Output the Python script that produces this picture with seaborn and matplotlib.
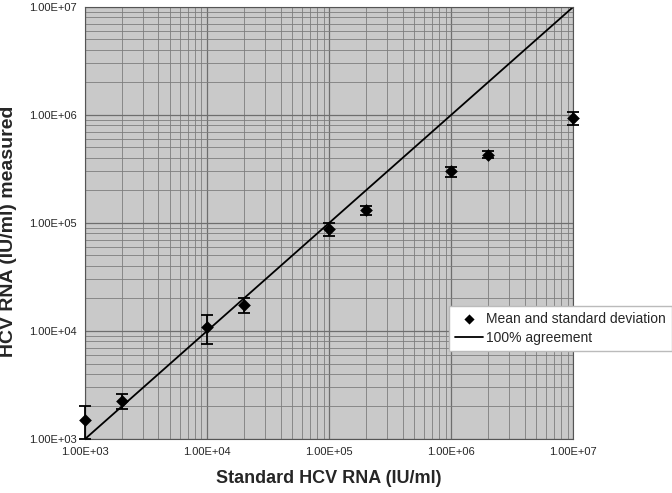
"""
HCV RNA measured vs standard - log-log agreement plot
"""

import numpy as np
import pandas as pd
import seaborn as sns
import matplotlib.pyplot as plt
from matplotlib.ticker import LogLocator, FixedLocator, NullFormatter

# standard (expected) concentrations, IU/ml
standard = [1e3, 2e3, 1e4, 2e4, 1e5, 2e5, 1e6, 2e6, 1e7]
# measured means and standard deviations, IU/ml
measured_mean = [1.5e3, 2.25e3, 1.09e4, 1.74e4, 8.8e4, 1.31e5, 3.0e5, 4.3e5, 9.4e5]
measured_sd = [0.5e3, 0.37e3, 0.33e4, 0.27e4, 1.15e4, 1.3e4, 3.2e4, 3.3e4, 1.25e5]

agreement_x = [1e3, 1e7]
tick_values = [1e3, 1e4, 1e5, 1e6, 1e7]
tick_labels = ["1.00E+03", "1.00E+04", "1.00E+05", "1.00E+06", "1.00E+07"]


def main():
    sns.set_theme(style="white")
    plt.rcParams['font.family'] = ['Liberation Sans', 'DejaVu Sans']

    df = pd.DataFrame({"standard": standard,
                       "mean": measured_mean,
                       "sd": measured_sd})
    line_df = pd.DataFrame({"x": agreement_x, "y": agreement_x})

    fig = plt.figure(figsize=(6.72, 4.93), dpi=100)
    ax = fig.add_axes([0.1265, 0.1095, 0.7265, 0.8765])
    ax.set_xscale("log")
    ax.set_yscale("log")
    ax.set_facecolor("#c9c9c9")

    # error bars first, markers on top
    eb = ax.errorbar(df["standard"], df["mean"], yerr=df["sd"], fmt="none",
                     ecolor="black", elinewidth=1.3, capsize=4, capthick=1.3,
                     zorder=3)
    for artist in eb.lines[1] + eb.lines[2]:
        artist.set_clip_on(False)
    sns.scatterplot(data=df, x="standard", y="mean", marker="D", s=42,
                    color="black", edgecolor="black", linewidth=0,
                    ax=ax, zorder=4, label="Mean and standard deviation",
                    clip_on=False)
    sns.lineplot(data=line_df, x="x", y="y", color="black", linewidth=1.3,
                 ax=ax, zorder=2, label="100% agreement")

    ax.set_xlim(1e3, 1e7)
    ax.set_ylim(1e3, 1e7)

    ax.xaxis.set_major_locator(FixedLocator(tick_values))
    ax.yaxis.set_major_locator(FixedLocator(tick_values))
    ax.set_xticklabels(tick_labels)
    ax.set_yticklabels(tick_labels)
    for axis in (ax.xaxis, ax.yaxis):
        axis.set_minor_locator(LogLocator(base=10, subs=np.arange(2, 10)))
        axis.set_minor_formatter(NullFormatter())

    ax.grid(which="major", color="#6e6e6e", linewidth=0.9)
    ax.grid(which="minor", color="#7d7d7d", linewidth=0.6)
    ax.set_axisbelow(True)
    ax.tick_params(which="both", length=0, labelsize=8, pad=6)

    for spine in ax.spines.values():
        spine.set_color("#555555")
        spine.set_linewidth(0.8)

    ax.set_xlabel("Standard HCV RNA (IU/ml)", fontsize=13,
                  fontweight="bold", labelpad=9)
    ax.set_ylabel("HCV RNA (IU/ml) measured", fontsize=14,
                  fontweight="bold")
    ax.yaxis.set_label_coords(-0.139, 0.48)

    handles, labels = ax.get_legend_handles_labels()
    ax.legend(handles, labels, loc="center left",
              bbox_to_anchor=(0.668, 0.334), bbox_transform=fig.transFigure,
              frameon=True, fancybox=False, framealpha=1,
              edgecolor="#bbbbbb", fontsize=10, handlelength=2.0,
              handletextpad=0.25, borderpad=0.45, borderaxespad=0,
              labelspacing=0.35, markerscale=0.8)

    fig.savefig("out.png", dpi=100)


if __name__ == "__main__":
    main()
